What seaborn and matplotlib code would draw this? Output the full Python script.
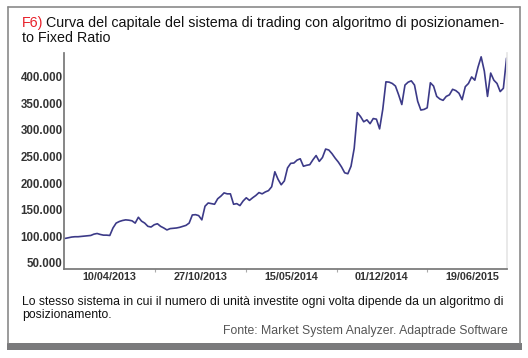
import pandas as pd
import numpy as np
import matplotlib
matplotlib.use("Agg")
import matplotlib.pyplot as plt
from matplotlib import font_manager
from matplotlib.lines import Line2D
from matplotlib.patches import Rectangle
import seaborn as sns

sns.set_theme(style="white")

# weekly equity values
start_date = "2013-01-02"
equity = [
    95700, 96900, 98200, 98800, 98800, 99400, 100000, 100600, 101200, 103700,
    104900, 103100, 101800, 101800, 101200, 115300, 124500, 127500, 129400, 130600,
    130000, 128800, 124500, 135500, 128200, 124500, 118400, 117100, 121400, 123300,
    118400, 115300, 111600, 114100, 114700, 115300, 116500, 118400, 120200, 124500,
    139800, 140400, 138600, 130600, 156300, 162400, 161200, 160000, 170400, 175300,
    181400, 179600, 179600, 160000, 161200, 157500, 166100, 172200, 167300, 172200,
    176500, 182000, 179600, 183200, 185700, 193000, 221200, 207100, 196700, 204000,
    228500, 237100, 237700, 243200, 245700, 231600, 233400, 234600, 243800, 251800,
    240800, 248100, 264000, 262200, 255400, 246900, 239500, 230400, 219300, 217500,
    231600, 265200, 332600, 325200, 315400, 319100, 311800, 321500, 320300, 302000,
    338700, 390700, 390100, 387600, 382700, 366200, 347900, 384600, 390100, 392500,
    384600, 354000, 337500, 338700, 341700, 388900, 382700, 363200, 358300, 355800,
    363200, 366200, 376600, 374200, 369300, 357000, 381500, 387600, 399900, 393800,
    418200, 437800, 410900, 363200, 407200, 393800, 387600, 372300, 378500, 435400,
]
xtick_dates = ["2013-04-10", "2013-10-27", "2014-05-15", "2014-12-01", "2015-06-19"]
xtick_labels = ["10/04/2013", "27/10/2013", "15/05/2014", "01/12/2014", "19/06/2015"]
yticks = [50000, 100000, 150000, 200000, 250000, 300000, 350000, 400000]

title_tag = "F6)"
title_line1 = "Curva del capitale del sistema di trading con algoritmo di posizionamen-"
title_line2 = "to Fixed Ratio"
caption_line1 = "Lo stesso sistema in cui il numero di unità investite ogni volta dipende da un algoritmo di"
caption_line2 = "posizionamento."
source = "Fonte: Market System Analyzer. Adaptrade Software"

df = pd.DataFrame({
    "date": pd.date_range(start_date, periods=len(equity), freq="7D"),
    "equity": equity,
})

installed = {f.name for f in font_manager.fontManager.ttflist}
main_font = "Liberation Sans" if "Liberation Sans" in installed else "DejaVu Sans"
tick_font = "Liberation Sans Narrow" if "Liberation Sans Narrow" in installed else main_font
plt.rcParams["font.family"] = [main_font, "DejaVu Sans"]

W, H = 528, 358
fig = plt.figure(figsize=(W / 100, H / 100), dpi=100)
ax = fig.add_axes([64 / W, 1 - 269 / H, 443 / W, 216 / H])

sns.lineplot(data=df, x="date", y="equity", ax=ax, color="#3c3a88", linewidth=1.2)

ax.set_xlim(pd.Timestamp("2012-12-30"), pd.Timestamp("2015-09-03"))
ax.set_ylim(38000, 445000)
ax.set_xlabel("")
ax.set_ylabel("")

ax.set_yticks(yticks)
ax.set_yticklabels([f"{v:,.0f}".replace(",", ".") for v in yticks])
xt = pd.to_datetime(xtick_dates)
ax.set_xticks(xt)
ax.set_xticklabels(xtick_labels)
mids = xt[:-1] + (xt[1:] - xt[:-1]) / 2
ax.set_xticks(mids, minor=True)

for lab in ax.get_xticklabels() + ax.get_yticklabels():
    lab.set_fontfamily(tick_font)
    lab.set_fontweight("bold")
    lab.set_color("#333333")
for lab in ax.get_yticklabels():
    lab.set_fontsize(8.3)
for lab in ax.get_xticklabels():
    lab.set_fontsize(7.8)

ax.tick_params(axis="y", which="major", length=0, pad=1)
ax.tick_params(axis="x", which="major", length=0, pad=2)
ax.tick_params(axis="x", which="minor", length=2, width=0.8, color="#aaaaaa", bottom=True)

ax.spines["top"].set_visible(False)
ax.spines["left"].set_color("#777777")
ax.spines["bottom"].set_color("#777777")
ax.spines["right"].set_color("#e6e6e6")

# frame around the figure
def px(x, y):
    return x / W, 1 - y / H
frame_col = "#8a8a8a"
for (x0, y0, x1, y1) in [(8, 7, 520, 7), (8, 7, 8, 343), (520, 7, 520, 343)]:
    (a, b), (c, d) = px(x0, y0), px(x1, y1)
    fig.add_artist(Line2D([a, c], [b, d], color=frame_col, linewidth=1.2))
fig.add_artist(Rectangle(px(7, 350), 515 / W, 7 / H, color="#7a7a7c", lw=0))

# title: red tag followed by black text
fig.canvas.draw()
r = fig.canvas.get_renderer()
tsize = 10.3
t1 = fig.text(22 / W, 1 - 27 / H, title_tag, color="#e8202a", fontsize=tsize,
              va="baseline", ha="left")
bb = t1.get_window_extent(renderer=r)
fig.text((bb.x1 + 3) / W, 1 - 27 / H, title_line1, color="#111111", fontsize=tsize,
         va="baseline", ha="left")
fig.text(22 / W, 1 - 42 / H, title_line2, color="#111111", fontsize=tsize,
         va="baseline", ha="left")

csize = 8.8
fig.text(22 / W, 1 - 305 / H, caption_line1, color="#111111", fontsize=csize,
         va="baseline", ha="left")
fig.text(22 / W, 1 - 318 / H, caption_line2, color="#111111", fontsize=csize,
         va="baseline", ha="left")
fig.text(508 / W, 1 - 334 / H, source, color="#555555", fontsize=csize,
         va="baseline", ha="right")

fig.savefig("out.png", dpi=100)
